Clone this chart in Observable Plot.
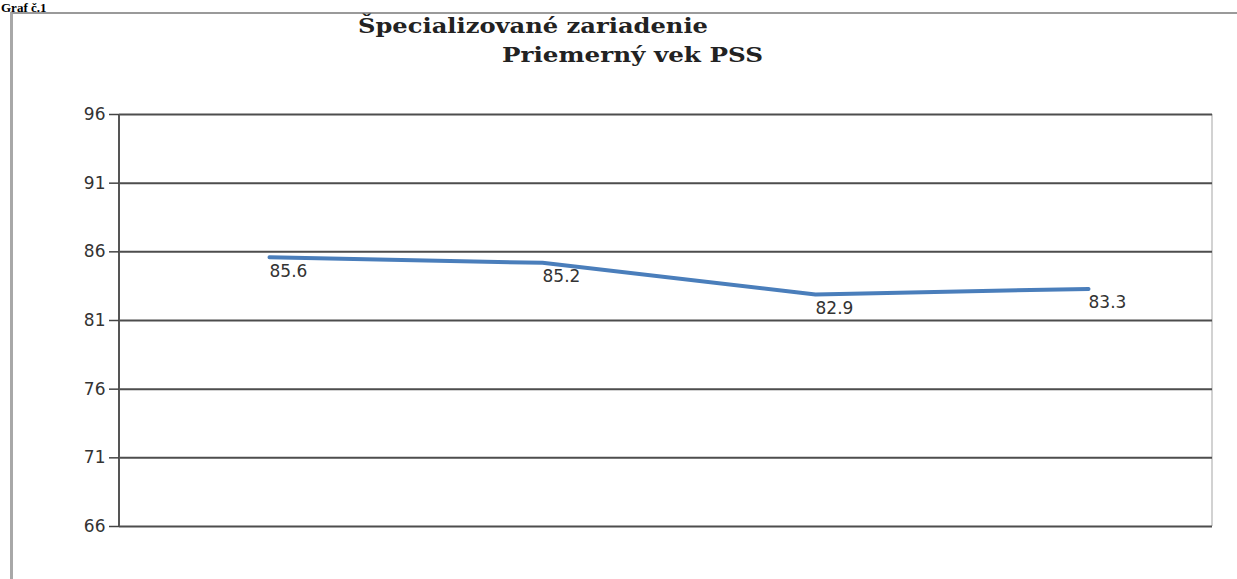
<!DOCTYPE html>
<html><head><meta charset="utf-8">
<script src="https://cdn.jsdelivr.net/npm/d3@7"></script>
<script src="https://cdn.jsdelivr.net/npm/@observablehq/plot@0.6"></script>
<style>
html,body{margin:0;padding:0;background:#fff;width:1237px;height:579px;overflow:hidden;}
#page{position:relative;width:1237px;height:579px;overflow:hidden;}
#frame{position:absolute;left:10px;top:12px;width:1227px;height:567px;border-top:2px solid #9a9a9a;border-left:3px solid #a8a8a8;box-sizing:border-box;}
#graf{position:absolute;left:1px;top:0px;font:bold 13px "Liberation Serif";line-height:normal;color:#000;white-space:nowrap;}
.t{position:absolute;font-family:"DejaVu Serif";font-weight:bold;font-size:20px;line-height:20px;color:#222;white-space:nowrap;transform-origin:0 0;}
#chart{position:absolute;left:0;top:0;}
</style>
</head><body>
<div id="page">
  <div id="frame"></div>
  <div id="graf">Graf č.1</div>
  <div id="chart"></div>
  <div class="t" id="t1">Špecializované zariadenie</div>
  <div class="t" id="t2">Priemerný vek PSS</div>
</div>
<script>
const periods = ["1", "2", "3", "4"];
const avgAge = [85.6, 85.2, 82.9, 83.3];
const yTicks = [66, 71, 76, 81, 86, 91, 96];
const titleLine1 = "Špecializované zariadenie";
const titleLine2 = "Priemerný vek PSS";

document.getElementById("t1").textContent = titleLine1;
document.getElementById("t2").textContent = titleLine2;

const data = periods.map((p, i) => ({period: p, age: avgAge[i]}));

const edge = (side, stroke, width) => (index, scales, values, dim) => {
  const x = side === "left" ? dim.marginLeft : dim.width - dim.marginRight;
  const l = d3.create("svg:line")
    .attr("x1", x).attr("x2", x)
    .attr("y1", scales.y(yTicks[yTicks.length - 1]))
    .attr("y2", scales.y(yTicks[0]))
    .attr("stroke", stroke).attr("stroke-width", width);
  return l.node();
};

const chart = Plot.plot({
  width: 1237, height: 579,
  marginTop: 114, marginBottom: 53, marginLeft: 119, marginRight: 25,
  style: {fontFamily: "DejaVu Sans", background: "transparent"},
  x: {type: "point", domain: periods, range: [269, 1088], padding: 0, axis: null},
  y: {domain: [yTicks[0], yTicks[yTicks.length - 1]], ticks: yTicks, axis: null},
  marks: [
    edge("right", "#d2d2d2", 2),
    Plot.ruleY(yTicks, {stroke: "#4d4d4d", strokeWidth: 2}),
    edge("left", "#555", 2),
    Plot.axisY({ticks: yTicks, tickSize: 10, tickPadding: 4, fontSize: 17, stroke: "#444", strokeWidth: 1.5, fill: "#333", label: null, style: {letterSpacing: "1.5px"}}),
    Plot.line(data, {x: "period", y: "age", stroke: "#4a7ebb", strokeWidth: 4}),
    Plot.text(data, {x: "period", y: "age", text: d => d.age.toFixed(1), textAnchor: "start", dy: 14, fontSize: 17, fill: "#333"})
  ]
});
document.getElementById("chart").appendChild(chart);

// position titles
const t1 = document.getElementById("t1"), t2 = document.getElementById("t2");
t1.style.left = "358px"; t1.style.top = "16px";
t2.style.left = "502px"; t2.style.top = "45px";
const fit = (el, w) => { const r = el.getBoundingClientRect().width; el.style.transform = `scaleX(${w / r})`; };
fit(t1, 350); fit(t2, 261);
</script>
</body></html>
